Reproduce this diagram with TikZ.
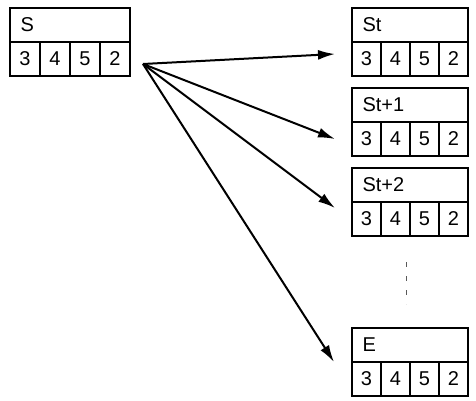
\documentclass[tikz,border=0pt]{standalone}
\usepackage{fontspec}
\setmainfont{Liberation Sans}
\usetikzlibrary{arrows.meta}
\newcommand\boxfont{\fontsize{20}{22}\selectfont}
\tikzset{
  cell/.style={draw, line width=1.2pt, minimum height=34pt, inner sep=0pt, outer sep=0pt},
  digit/.style={cell, anchor=north west, minimum width=#1, align=center},
  conn/.style={line width=2pt, -{Latex[length=17pt,width=10pt]}},
}
% \regbox{name}{x}{y}{cellwidth}{label}
\newcommand\regbox[5]{%
  \node[cell, anchor=north west, minimum width=4*#4pt, text width=4*#4pt-9pt, align=left, inner xsep=0pt] (#1h) at (#2,#3) {\hspace*{6pt}\boxfont #5};
  \node[digit=#4pt] (#1a) at (#2,#3+34) {\boxfont 3};
  \node[digit=#4pt] (#1b) at (#2+#4,#3+34) {\boxfont 4};
  \node[digit=#4pt] (#1c) at (#2+2*#4,#3+34) {\boxfont 5};
  \node[digit=#4pt] (#1d) at (#2+3*#4,#3+34) {\boxfont 2};
}
\begin{document}
\begin{tikzpicture}[x=1pt,y=-1pt]
\useasboundingbox (0,0) rectangle (476,401);
\regbox{s}{10}{8}{30}{S}
\regbox{t}{352}{8}{29}{St}
\regbox{u}{352}{88}{29}{St+1}
\regbox{v}{352}{168}{29}{St+2}
\regbox{e}{352}{328}{29}{E}
\coordinate (src) at (143,64);
\coordinate (pt) at (335,54);
\coordinate (pu) at (335,139);
\coordinate (pv) at (335,208);
\coordinate (pe) at (334,362);
\coordinate (d1) at (406,262);
\coordinate (d2) at (406,304);
\draw[conn] (src) -- (pt);
\draw[conn] (src) -- (pu);
\draw[conn] (src) -- (pv);
\draw[conn] (src) -- (pe);
\draw[line width=1pt, dash pattern=on 5pt off 9pt, gray!70!black] (d1) -- (d2);
\end{tikzpicture}
\end{document}
